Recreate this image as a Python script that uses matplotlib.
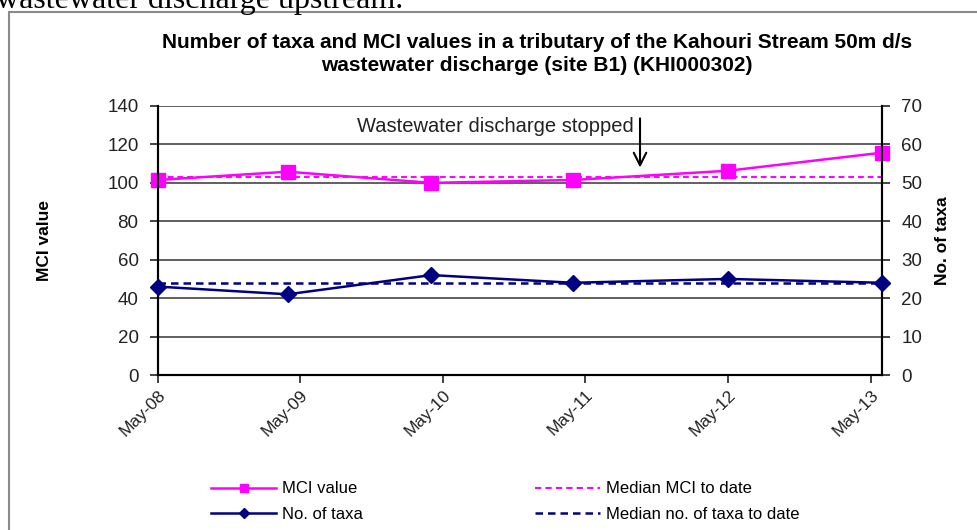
import matplotlib
matplotlib.use("Agg")
import matplotlib.pyplot as plt
import matplotlib.dates as mdates
from matplotlib.patches import Rectangle
import numpy as np
import datetime as dt

plt.rcParams['font.family'] = ['Liberation Sans', 'DejaVu Sans']

# sampling dates and results
sample_dates = [dt.date(2008, 5, 15), dt.date(2009, 4, 12), dt.date(2010, 4, 15),
                dt.date(2011, 4, 13), dt.date(2012, 5, 14), dt.date(2013, 6, 13)]
mci_values = [101.5, 105.8, 100.0, 101.5, 106.3, 115.7]
taxa_counts = [23, 21, 26, 24, 25, 24]
mci_median = 103
taxa_median = 24

tick_dates = [dt.date(2008 + i, 5, 15) for i in range(6)]
stop_date = dt.date(2011, 10, 2)

title = ("Number of taxa and MCI values in a tributary of the Kahouri Stream 50m d/s\n"
         "wastewater discharge (site B1) (KHI000302)")

fig = plt.figure(figsize=(9.77, 5.30), dpi=100)

# bit of the report text above the chart and the chart frame
fig.text(-0.004, 1 - 8 / 530, "wastewater discharge upstream.", family="Liberation Serif",
         fontsize=23, va="baseline", ha="left")
fig.patches.append(Rectangle((9 / 977, -0.05), 1.1, 1 - 12 / 530 + 0.05, transform=fig.transFigure,
                             fill=False, edgecolor="#8a8a8a", lw=1.5))

ax = fig.add_axes([158 / 977, 1 - 375 / 530, (882 - 158) / 977, (375 - 106) / 530])
ax2 = ax.twinx()

dates = mdates.date2num(sample_dates)

ax.plot(dates, [mci_median] * len(dates), color="#ff00ff", ls=(0, (3, 2)), lw=1.4, clip_on=False)
ax.plot(dates, mci_values, color="#ff00ff", lw=1.8, marker="s", ms=10, clip_on=False, zorder=3)
ax2.plot(dates, [taxa_median] * len(dates), color="#000080", ls=(0, (3, 2)), lw=1.8, clip_on=False)
ax2.plot(dates, taxa_counts, color="#000080", lw=1.8, marker="D", ms=8, clip_on=False, zorder=3)

ax.set_xlim(dates[0], dates[-1])
ax.set_ylim(0, 140)
ax.set_yticks(np.arange(0, 141, 20))
ax2.set_ylim(0, 70)
ax2.set_yticks(np.arange(0, 71, 10))

ax.set_xticks(mdates.date2num(tick_dates))
ax.xaxis.set_major_formatter(mdates.DateFormatter("%b-%y"))
for lab in ax.get_xticklabels():
    lab.set_rotation(45)
    lab.set_ha("right")
    lab.set_rotation_mode("anchor")

ax.grid(axis="y", color="#444444", lw=1.2)
ax.set_axisbelow(True)
for a in (ax, ax2):
    a.spines["top"].set_visible(False)
    for s in ("left", "right", "bottom"):
        a.spines[s].set_linewidth(1.5)
    a.tick_params(labelsize=13.5, colors="#222222", length=6, width=1.2)
ax.tick_params(axis="y", pad=8)
ax2.tick_params(axis="y", pad=8)
ax.tick_params(axis="x", pad=3, labelsize=12.5)

ax.set_ylabel("MCI value", fontsize=12.5, fontweight="bold", labelpad=40)
ax2.set_ylabel("No. of taxa", fontsize=12.5, fontweight="bold", labelpad=9)

ax.annotate("", xy=(mdates.date2num(stop_date), 106.5), xytext=(mdates.date2num(stop_date), 135),
            arrowprops=dict(arrowstyle="->,head_length=0.9,head_width=0.45", color="black", lw=1.5))
ax.text(mdates.date2num(stop_date) - 15, 129.5, "Wastewater discharge stopped", fontsize=14.5,
        ha="right", va="center", color="#222222")

fig.text(537 / 977, 1 - 54 / 530, title, ha="center", va="center", fontsize=15,
         fontweight="bold", linespacing=1.3)

# legend entries
med1, = ax.plot([], [], color="#ff00ff", ls=(0, (3, 2)), lw=1.5, label="Median MCI to date")
med2, = ax.plot([], [], color="#000080", ls=(0, (3, 2)), lw=1.8, label="Median no. of taxa to date")
l1_leg, = ax.plot([], [], color="#ff00ff", lw=1.8, marker="s", ms=6, label="MCI value")
l2_leg, = ax.plot([], [], color="#000080", lw=1.8, marker="D", ms=5, label="No. of taxa")
fig.legend(handles=[l1_leg, l2_leg, med1, med2], ncol=2, frameon=False, fontsize=12,
           loc="upper left", bbox_to_anchor=(203 / 977, 1 - 473 / 530), borderpad=0,
           handlelength=3.9, handletextpad=0.35, columnspacing=10.3, labelspacing=0.65)

fig.savefig("out.png", dpi=100)
